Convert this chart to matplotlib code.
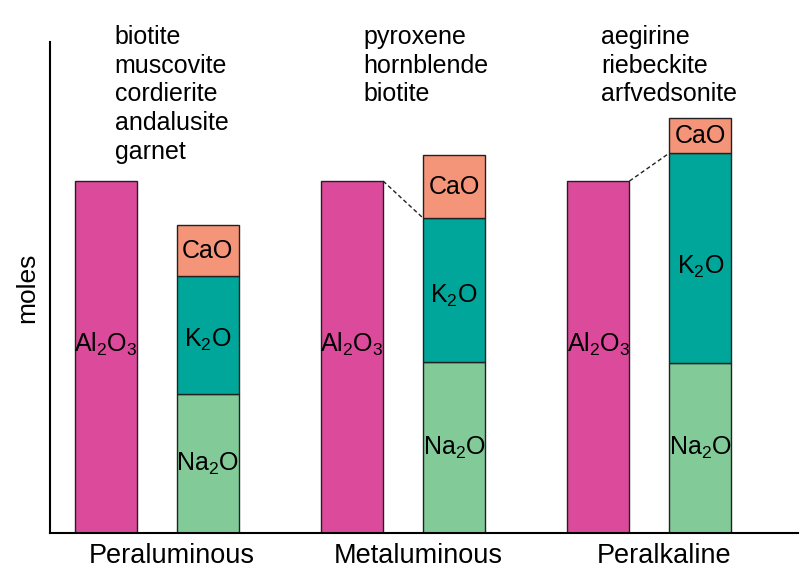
import numpy as np
from matplotlib import pyplot as plt

plt.rcParams['font.family'] = ['Liberation Sans', 'DejaVu Sans']
plt.rcParams['mathtext.fontset'] = 'custom'
plt.rcParams['mathtext.rm'] = 'Liberation Sans'
plt.rcParams['mathtext.it'] = 'Liberation Sans'
plt.rcParams['mathtext.bf'] = 'Liberation Sans'

categories = ['Peraluminous', 'Metaluminous', 'Peralkaline']
al2o3 = [352, 352, 352]
na2o = [139, 171, 170]
k2o = [118, 144, 210]
cao = [51, 63, 35]
minerals = [
    ['biotite', 'muscovite', 'cordierite', 'andalusite', 'garnet'],
    ['pyroxene', 'hornblende', 'biotite'],
    ['aegirine', 'riebeckite', 'arfvedsonite'],
]

col_al = '#DC4A9B'
col_na = '#82CB99'
col_k = '#00A699'
col_ca = '#F4957A'

x = np.arange(len(categories))
off = 0.207
width = 0.252
fs = 18

fig = plt.figure(figsize=(8, 5.79), dpi=100)
ax = fig.add_axes([0.0625, 0.0794, 0.935, 0.848])

ax.bar(x - off, al2o3, width, color=col_al, edgecolor='#222222', linewidth=1)
ax.bar(x + off, na2o, width, color=col_na, edgecolor='#222222', linewidth=1)
ax.bar(x + off, k2o, width, bottom=na2o, color=col_k, edgecolor='#222222', linewidth=1)
nk = np.array(na2o) + np.array(k2o)
ax.bar(x + off, cao, width, bottom=nk, color=col_ca, edgecolor='#222222', linewidth=1)

for i in range(len(categories)):
    ax.text(x[i] - off, al2o3[i] * 0.535, r'Al$_2$O$_3$', ha='center', va='center', fontsize=fs)
    ax.text(x[i] + off, na2o[i] / 2, r'Na$_2$O', ha='center', va='center', fontsize=fs)
    ax.text(x[i] + off, na2o[i] + k2o[i] * 0.46, r'K$_2$O', ha='center', va='center', fontsize=fs)
    ax.text(x[i] + off, nk[i] + cao[i] / 2, 'CaO', ha='center', va='center', fontsize=fs)
    # dashed link from Al2O3 top to Na2O+K2O top
    if i > 0:
        ax.plot([x[i] - off + width / 2, x[i] + off - width / 2], [al2o3[i], nk[i]],
                color='#222222', lw=1, dashes=(3, 2))

mineral_x = [-0.17, 0.84, 1.805]
for i, names in enumerate(minerals):
    for j, name in enumerate(names):
        ax.annotate(name, xy=(mineral_x[i], 1), xycoords=('data', 'axes fraction'),
                    xytext=(0, 5 - 28.7 * j), textcoords='offset pixels',
                    ha='left', va='center', fontsize=fs, annotation_clip=False)

ax.set_xlim(-0.433, 2.603)
ax.set_ylim(0, 491)
ax.set_xticks(x + 0.06)
ax.set_xticklabels(categories, fontsize=19.5)
ax.tick_params(axis='x', length=0, pad=7)
ax.set_yticks([])
ax.set_ylabel('moles', fontsize=19, labelpad=8)
ax.spines['top'].set_visible(False)
ax.spines['right'].set_visible(False)
ax.spines['left'].set_linewidth(1.5)
ax.spines['bottom'].set_linewidth(1.5)

plt.savefig('out.png', dpi=100)
